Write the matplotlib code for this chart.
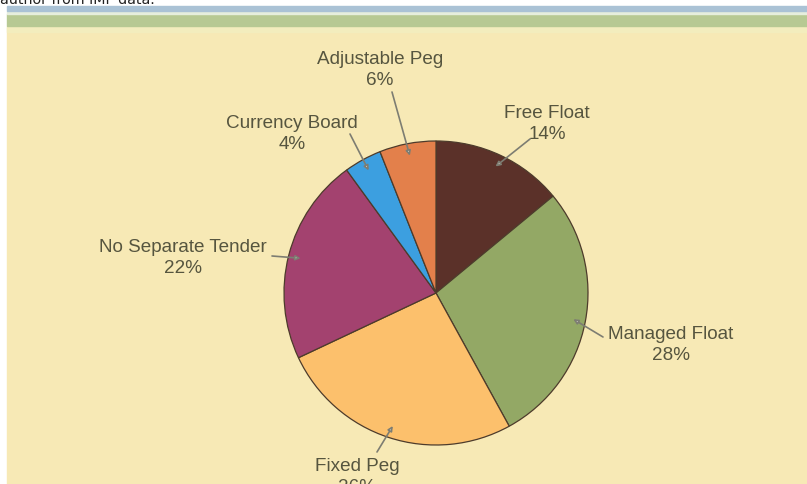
import matplotlib.pyplot as plt
import numpy as np
from matplotlib.patches import Rectangle

W, H = 807, 485

labels = ["Free Float", "Managed Float", "Fixed Peg", "No Separate Tender",
          "Currency Board", "Adjustable Peg"]
shares = [14, 28, 26, 22, 4, 6]
colors = ["#5b3129", "#93a865", "#fcc06c", "#a3426f", "#3c9fe0", "#e3804b"]

# label text centre (first line) and leader line start, image pixels
label_pos = [(547, 113), (671, 334), (357, 466), (183, 247), (292, 123), (380, 59)]
line_start = [(530, 140), (603, 338), (377, 453), (272, 257), (350, 135), (392, 93)]

cx, cy, radius = 436, 294, 152
text_color = "#56553f"

fig = plt.figure(figsize=(W / 100, H / 100), dpi=100)
ax = fig.add_axes([0, 0, 1, 1])

# background panel and header strips
ax.add_patch(Rectangle((7, 0), W - 7, H - 28, color="#f7e9b5", zorder=0))
ax.add_patch(Rectangle((7, H - 33), W - 7, 6, color="#f3edbd", zorder=0))
ax.add_patch(Rectangle((7, H - 27), W - 7, 12, color="#b7c993", zorder=0))
ax.add_patch(Rectangle((7, H - 15), W - 7, 3, color="#e6eedd", zorder=0))
ax.add_patch(Rectangle((7, H - 12), W - 7, 5, color="#aac2d5", zorder=0))
ax.text(0, H - 4.5, "author from IMF data.", fontsize=10.3, color="#222222",
        va="baseline", ha="left", family="DejaVu Sans")

wedges, _ = ax.pie(shares, colors=colors, startangle=90, counterclock=False,
                   center=(cx, H - cy), radius=radius,
                   wedgeprops=dict(edgecolor="#4d3b2b", linewidth=0.9))
ax.set_xlim(0, W)
ax.set_ylim(0, H)
ax.axis("off")

for w, lab, s, (tx, ty), (lx, ly) in zip(wedges, labels, shares, label_pos, line_start):
    mid = np.deg2rad((w.theta1 + w.theta2) / 2)
    tip = (cx + 0.92 * radius * np.cos(mid), (H - cy) + 0.92 * radius * np.sin(mid))
    ax.annotate("", xy=tip, xytext=(lx, H - ly),
                arrowprops=dict(arrowstyle="-|>", color="#7d7d72", lw=1.2,
                                mutation_scale=7, shrinkA=0, shrinkB=0,
                                fc="#ece6e0"))
    # two-line block, centred half a line below the first line
    ax.text(tx, H - ty - 11, f"{lab}\n{s}%", fontsize=13.6, color=text_color,
            ha="center", va="center", linespacing=1.25,
            family="Liberation Sans")

fig.savefig("out.png", dpi=100)
